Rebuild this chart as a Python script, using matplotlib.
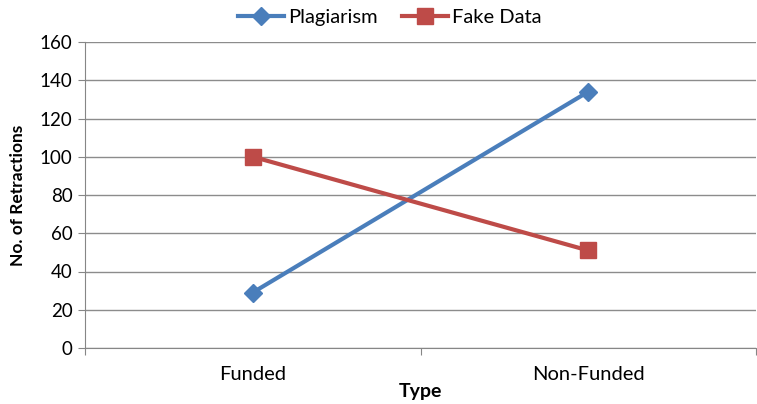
import numpy as np
import matplotlib.pyplot as plt

plt.rcParams['font.family'] = ['Lato', 'DejaVu Sans']

#data
categories = ['Funded', 'Non-Funded']
plagiarism = [29, 134]
fake_data = [100, 51]
y_ticks = [0, 20, 40, 60, 80, 100, 120, 140, 160]

fig = plt.figure(figsize=(7.57, 4.04), dpi=100)
ax = fig.add_axes([85/757, 1-348/404, 1-86/757, (348-42)/404])

x = np.arange(len(categories))

ax.plot(x, plagiarism, color='#4A7EBB', lw=3, marker='D', ms=9,
        label='Plagiarism', zorder=3)
ax.plot(x, fake_data, color='#BE4B48', lw=3, marker='s', ms=11,
        label='Fake Data', zorder=3)

ax.set_xlim(-0.5, 1.5)
ax.set_ylim(0, 160)
ax.set_yticks(y_ticks)
ax.set_xticks([-0.5, 0.5, 1.5])
ax.set_xticklabels([])
ax.set_xticks(x, minor=True)
ax.set_xticklabels(categories, minor=True)
ax.tick_params(axis='x', which='minor', length=0, pad=13, labelsize=14.5)
ax.tick_params(axis='x', which='major', length=5, color='#868686', direction='out')
ax.tick_params(axis='y', length=5, color='#868686', labelsize=13.5, pad=4)

#grid
ax.grid(axis='y', color='#8c8c8c', lw=1)
ax.set_axisbelow(True)
for s in ['top', 'right']:
    ax.spines[s].set_visible(False)
ax.spines['left'].set_color('#868686')
ax.spines['bottom'].set_color('#868686')

ax.set_xlabel('Type', fontweight='bold', fontsize=14, labelpad=0)
ax.set_ylabel('No. of Retractions', fontweight='bold', fontsize=12.5, labelpad=10)

ax.legend(loc='center', bbox_to_anchor=(390/757, 1-17/404),
          bbox_transform=fig.transFigure, ncol=2, frameon=False,
          fontsize=14.5, handlelength=2.3, columnspacing=1.2, handletextpad=0.2)

plt.savefig('out.png', dpi=100)
plt.close()
